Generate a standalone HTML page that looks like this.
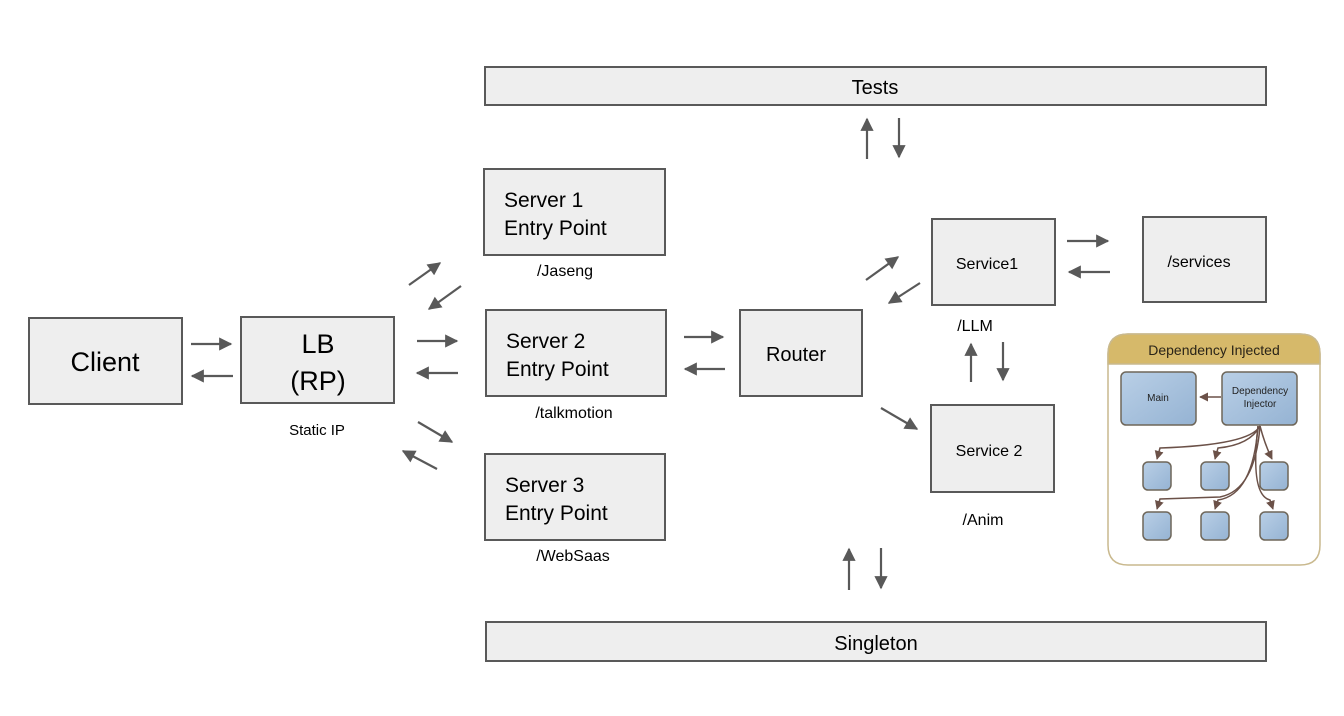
<!DOCTYPE html>
<html><head><meta charset="utf-8"><style>
html,body{margin:0;padding:0;background:#fff;}
svg{display:block;font-family:"Liberation Sans",Arial,sans-serif;}
</style></head><body>
<svg width="1344" height="716" viewBox="0 0 1344 716" xmlns="http://www.w3.org/2000/svg">
<defs>
<marker id="a" viewBox="0 0 10 10" refX="9" refY="5" markerWidth="6.5" markerHeight="6" orient="auto" markerUnits="strokeWidth">
<path d="M0,0 L10,5 L0,10 z" fill="#595959"/></marker>
<marker id="b" viewBox="0 0 10 10" refX="9" refY="5" markerWidth="6" markerHeight="6" orient="auto" markerUnits="strokeWidth">
<path d="M0,0 L10,5 L0,10 z" fill="#6b5148"/></marker>
<linearGradient id="g" x1="0" y1="0" x2="1" y2="1"><stop offset="0" stop-color="#b9cfe6"/><stop offset="1" stop-color="#95b3d3"/></linearGradient>
</defs>
<g fill="#eeeeee" stroke="#595959" stroke-width="2">
<rect x="485" y="67" width="781" height="38"/>
<rect x="484" y="169" width="181" height="86"/>
<rect x="29" y="318" width="153" height="86"/>
<rect x="241" y="317" width="153" height="86"/>
<rect x="486" y="310" width="180" height="86"/>
<rect x="485" y="454" width="180" height="86"/>
<rect x="740" y="310" width="122" height="86"/>
<rect x="932" y="219" width="123" height="86"/>
<rect x="1143" y="217" width="123" height="85"/>
<rect x="931" y="405" width="123" height="87"/>
<rect x="486" y="622" width="780" height="39"/>
</g>
<g fill="#000">
<text x="875" y="94" font-size="20" text-anchor="middle">Tests</text>
<text x="504" y="207" font-size="21">Server 1</text>
<text x="504" y="235" font-size="21">Entry Point</text>
<text x="565" y="276" font-size="16" text-anchor="middle">/Jaseng</text>
<text x="105" y="371" font-size="27" text-anchor="middle">Client</text>
<text x="318" y="353" font-size="27" text-anchor="middle">LB</text>
<text x="318" y="390" font-size="27" text-anchor="middle">(RP)</text>
<text x="317" y="435" font-size="15" text-anchor="middle">Static IP</text>
<text x="506" y="348" font-size="21">Server 2</text>
<text x="506" y="376" font-size="21">Entry Point</text>
<text x="574" y="418" font-size="16" text-anchor="middle">/talkmotion</text>
<text x="505" y="492" font-size="21">Server 3</text>
<text x="505" y="520" font-size="21">Entry Point</text>
<text x="573" y="561" font-size="16" text-anchor="middle">/WebSaas</text>
<text x="796" y="361" font-size="20" text-anchor="middle">Router</text>
<text x="987" y="269" font-size="16" text-anchor="middle">Service1</text>
<text x="975" y="331" font-size="16" text-anchor="middle">/LLM</text>
<text x="1199" y="267" font-size="16" text-anchor="middle">/services</text>
<text x="989" y="456" font-size="16" text-anchor="middle">Service 2</text>
<text x="983" y="525" font-size="16" text-anchor="middle">/Anim</text>
<text x="876" y="650" font-size="20" text-anchor="middle">Singleton</text>
</g>
<g stroke="#595959" stroke-width="2.2" fill="none" marker-end="url(#a)">
<line x1="191" y1="344" x2="231" y2="344"/>
<line x1="233" y1="376" x2="192" y2="376"/>
<line x1="417" y1="341" x2="457" y2="341"/>
<line x1="458" y1="373" x2="417" y2="373"/>
<line x1="409" y1="285" x2="440" y2="263"/>
<line x1="461" y1="286" x2="429" y2="309"/>
<line x1="418" y1="422" x2="452" y2="442"/>
<line x1="437" y1="469" x2="403" y2="451"/>
<line x1="684" y1="337" x2="723" y2="337"/>
<line x1="725" y1="369" x2="685" y2="369"/>
<line x1="866" y1="280" x2="898" y2="257"/>
<line x1="920" y1="283" x2="889" y2="303"/>
<line x1="881" y1="408" x2="917" y2="429"/>
<line x1="1067" y1="241" x2="1108" y2="241"/>
<line x1="1110" y1="272" x2="1069" y2="272"/>
<line x1="971" y1="382" x2="971" y2="344"/>
<line x1="1003" y1="342" x2="1003" y2="380"/>
<line x1="867" y1="159" x2="867" y2="119"/>
<line x1="899" y1="118" x2="899" y2="157"/>
<line x1="849" y1="590" x2="849" y2="549"/>
<line x1="881" y1="548" x2="881" y2="588"/>
</g>
<path d="M1128,334 H1300 Q1320,334 1320,354 V545 Q1320,565 1300,565 H1128 Q1108,565 1108,545 V354 Q1108,334 1128,334 Z" fill="#fff" stroke="#c9b98e" stroke-width="1.5"/>
<path d="M1128,334 H1300 Q1320,334 1320,354 V364 H1108 V354 Q1108,334 1128,334 Z" fill="#d6b96a" stroke="#c9b98e" stroke-width="1.5"/>
<text x="1214" y="355" font-size="14" text-anchor="middle" fill="#2a2418">Dependency Injected</text>
<g fill="url(#g)" stroke="#6e6659" stroke-width="1.5">
<rect x="1121" y="372" width="75" height="53" rx="5"/>
<rect x="1222" y="372" width="75" height="53" rx="5"/>
<rect x="1143" y="462" width="28" height="28" rx="5"/>
<rect x="1201" y="462" width="28" height="28" rx="5"/>
<rect x="1260" y="462" width="28" height="28" rx="5"/>
<rect x="1143" y="512" width="28" height="28" rx="5"/>
<rect x="1201" y="512" width="28" height="28" rx="5"/>
<rect x="1260" y="512" width="28" height="28" rx="5"/>
</g>
<text x="1158" y="401" font-size="10" text-anchor="middle" fill="#222">Main</text>
<text x="1260" y="394" font-size="10" text-anchor="middle" fill="#222">Dependency</text>
<text x="1260" y="407" font-size="10" text-anchor="middle" fill="#222">Injector</text>
<g stroke="#6b5148" stroke-width="1.5" fill="none" marker-end="url(#b)">
<line x1="1221" y1="397" x2="1200" y2="397"/>
<path d="M1260,426 Q1250,445 1160,448 L1157,459"/>
<path d="M1260,426 Q1250,445 1218,448 L1215,459"/>
<path d="M1260,426 Q1265,445 1272,459"/>
<path d="M1260,426 Q1255,490 1220,497 L1160,499 L1157,509"/>
<path d="M1258,426 Q1253,495 1218,500 L1215,509"/>
<path d="M1258,426 Q1250,495 1270,500 L1273,509"/>
</g>
</svg>
</body></html>
